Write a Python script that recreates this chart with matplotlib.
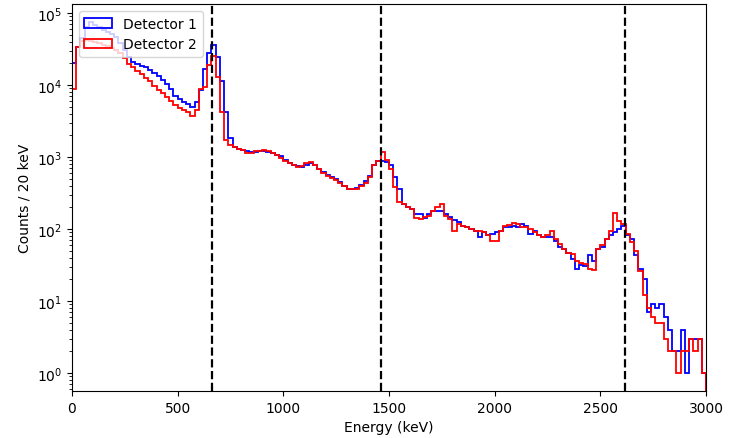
import numpy as np
import matplotlib
matplotlib.use('Agg')
from matplotlib import pyplot as plt

# 20 keV bins, 0 - 3000 keV
bin_edges = np.arange(0, 3020, 20)

det1_counts = [
    20000, 33100, 44700, 63100, 75900, 67600, 63100, 57500, 55000, 51300,
    45700, 38000, 30200, 24500, 20700, 19500, 18600, 17600, 16200, 14800,
    13200, 11700, 10200, 8700, 7100, 6400, 5750, 5500, 5000, 5750,
    8500, 16600, 28200, 35900, 24300, 11500, 4200, 1860, 1380, 1290,
    1230, 1200, 1160, 1170, 1200, 1190, 1170, 1150, 1070, 1020,
    910, 830, 760, 740, 716, 776, 813, 760, 676, 617,
    562, 525, 490, 447, 398, 363, 355, 372, 407, 457,
    550, 760, 871, 871, 851, 760, 525, 363, 224, 204,
    190, 162, 162, 141, 162, 180, 180, 176, 162, 145,
    131, 124, 111, 105, 100, 95, 76, 90, 81, 85,
    90, 95, 105, 105, 111, 105, 117, 110, 85, 95,
    81, 77, 77, 77, 69, 56, 52, 47, 38, 28,
    32, 31, 44, 36, 52, 56, 72, 81, 90, 100,
    111, 81, 72, 43, 28, 20, 7, 9, 8, 9,
    6, 4, 2, 2, 4, 1, 3, 3, 3, 1,
]

det2_counts = [
    8700, 33100, 40700, 41700, 40700, 39800, 38000, 36300, 34700, 32400,
    30200, 27500, 24000, 19500, 17600, 15800, 14100, 12300, 11200, 9800,
    8500, 7800, 6800, 6000, 5250, 4800, 4450, 4250, 3760, 4450,
    8700, 9300, 19000, 25100, 12700, 4200, 1700, 1480, 1360, 1290,
    1260, 1150, 1120, 1200, 1200, 1230, 1190, 1120, 1050, 980,
    890, 830, 760, 724, 740, 813, 851, 776, 676, 603,
    550, 513, 479, 437, 389, 363, 355, 363, 398, 437,
    525, 760, 891, 1175, 912, 676, 380, 234, 224, 204,
    190, 141, 138, 145, 153, 180, 200, 221, 153, 138,
    95, 117, 111, 105, 100, 95, 95, 90, 81, 69,
    67, 95, 111, 114, 120, 117, 105, 105, 100, 90,
    81, 77, 81, 95, 72, 62, 52, 47, 45, 36,
    34, 33, 28, 27, 52, 59, 72, 95, 165, 130,
    117, 85, 65, 50, 26, 12, 8, 6, 5, 5,
    3, 2, 2, 1, 2, 2, 3, 2, 3, 1,
]

# gamma lines: Cs-137, K-40, Tl-208
line_energies = [662, 1461, 2615]

fig = plt.figure(figsize=(7.36, 4.39), dpi=100)
ax = fig.add_axes([0.0978, 0.107, 0.8614, 0.8816])

centers = bin_edges[:-1] + 10
ax.hist(centers, bins=bin_edges, weights=det1_counts, histtype='step',
        color='blue', linewidth=1.3, label='Detector 1', log=True)
ax.hist(centers, bins=bin_edges, weights=det2_counts, histtype='step',
        color='red', linewidth=1.3, label='Detector 2', log=True)

for e in line_energies:
    ax.axvline(e, color='black', linestyle='--', linewidth=1.6)

ax.set_xlim(0, 3000)
ax.set_ylim(0.56, 1.33e5)
ax.set_xlabel('Energy (keV)')
ax.set_ylabel('Counts / 20 keV')
ax.legend(loc='upper left')

fig.savefig('out.png', dpi=100)
